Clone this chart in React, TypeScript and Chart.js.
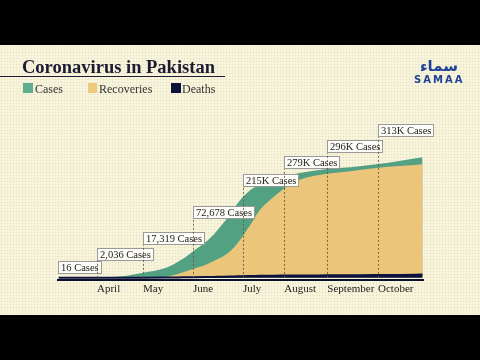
import React, { useEffect, useRef } from "react";
import { Chart, registerables } from "chart.js";

Chart.register(...registerables);

// x values are day-of-year 2020, y values are thousands of people
const days = [67, 94, 108, 122, 136, 148, 155, 162, 166, 170, 174, 179, 183, 186, 190, 193, 198, 205, 212, 216, 224, 242, 257, 274, 289, 304];
const cases = [0.016, 1.5, 4, 14, 26, 52, 74, 95, 110, 128, 148, 175, 200, 216, 233, 243, 255, 265, 275, 279, 286, 297, 302, 310, 319, 329];
const recoveries = [0, 0, 0, 0, 2, 15, 25, 34, 42, 50, 58, 74, 92, 108, 133, 152, 185, 214, 238, 250, 268, 284, 291, 300, 305, 310];
const deaths = [0, 0, 0.1, 0.4, 0.8, 1.3, 1.6, 2, 2.3, 2.7, 3, 3.5, 4, 4.4, 4.8, 5, 5.4, 5.7, 6, 6.2, 6.4, 6.7, 7, 7.4, 8, 9];

const monthLabels = ["April", "May", "June", "July", "August", "September", "October"];
const monthDays = [92, 122, 154.5, 187, 214, 242, 275];

const calloutTexts = ["16 Cases", "2,036 Cases", "17,319 Cases", "72,678 Cases", "215K Cases", "279K Cases", "296K Cases", "313K Cases"];
const calloutDays = [66.6, 92, 122, 154.5, 187, 214, 242, 275];
const calloutLevels = [12, 50, 93, 163, 251, 300, 343, 388];

const GREEN = "#52a183";
const YELLOW = "#ebc67a";
const NAVY = "#0c1240";
const SERIF = '"Liberation Serif", "Times New Roman", serif';

const calloutPlugin = {
  id: "callouts",
  afterDatasetsDraw(chart: any) {
    const { ctx, scales } = chart;
    const x = scales.x;
    const y = scales.y;
    const base = y.getPixelForValue(0);
    ctx.save();
    ctx.font = "10.5px " + SERIF;
    calloutTexts.forEach((t: string, i: number) => {
      const px = Math.round(x.getPixelForValue(calloutDays[i])) + 0.5;
      const bottom = Math.round(y.getPixelForValue(calloutLevels[i])) + 0.5;
      if (i > 0) {
        ctx.beginPath();
        ctx.setLineDash([2, 2]);
        ctx.strokeStyle = "rgba(95,85,60,0.85)";
        ctx.lineWidth = 1;
        ctx.moveTo(px, base);
        ctx.lineTo(px, bottom);
        ctx.stroke();
        ctx.setLineDash([]);
      }
      const w = Math.round(ctx.measureText(t).width + 5);
      const h = 12;
      ctx.fillStyle = "#fdfcf7";
      ctx.fillRect(px, bottom - h, w, h);
      ctx.strokeStyle = "#9a9a9a";
      ctx.lineWidth = 1;
      ctx.strokeRect(px, bottom - h, w, h);
      ctx.fillStyle = "#222";
      ctx.textBaseline = "alphabetic";
      ctx.textAlign = "left";
      ctx.fillText(t, px + 2.5, bottom - 2.5);
    });
    ctx.restore();
  },
};

export default function App() {
  const ref = useRef<HTMLCanvasElement>(null);
  useEffect(() => {
    const mk = (vals: number[]) => days.map((d, i) => ({ x: d, y: vals[i] }));
    const common = { fill: "origin", pointRadius: 0, cubicInterpolationMode: "monotone" };
    const chart = new Chart(ref.current as HTMLCanvasElement, {
      type: "line",
      data: {
        datasets: [
          { label: "Deaths", data: mk(deaths), borderColor: NAVY, backgroundColor: NAVY, borderWidth: 2, ...common },
          { label: "Recoveries", data: mk(recoveries), borderColor: YELLOW, backgroundColor: YELLOW, borderWidth: 0, ...common },
          { label: "Cases", data: mk(cases), borderColor: GREEN, backgroundColor: GREEN, borderWidth: 0, ...common },
        ],
      },
      options: {
        animation: false,
        responsive: false,
        maintainAspectRatio: false,
        layout: { padding: { left: 58, right: 57, top: 124, bottom: 61 } },
        plugins: { legend: { display: false }, tooltip: { enabled: false } },
        scales: {
          x: {
            type: "linear",
            min: 66.6,
            max: 304.3,
            grid: { display: false, drawTicks: false },
            border: { display: true, color: "#0b0f2a", width: 2 },
            afterBuildTicks: (s: any) => {
              s.ticks = monthDays.map((v) => ({ value: v }));
            },
            ticks: {
              autoSkip: false,
              maxRotation: 0,
              align: "start",
              padding: 3,
              color: "#222",
              font: { family: SERIF, size: 11 },
              callback: (_v: any, i: number) => monthLabels[i],
            },
          },
          y: { display: false, min: -5.4, max: 420 },
        },
      },
      plugins: [calloutPlugin],
    } as any);
    return () => chart.destroy();
  }, []);

  const sq = (left: number, color: string, w = 10) => (
    <div style={{ position: "absolute", left, top: 83, width: w, height: 10, background: color }} />
  );
  const lt = (left: number, text: string) => (
    <div style={{ position: "absolute", left, top: 83, fontFamily: SERIF, fontSize: 12, lineHeight: "12px", color: "#333", whiteSpace: "nowrap" }}>{text}</div>
  );

  return (
    <div style={{ position: "fixed", left: 0, top: 0, width: 480, height: 360, background: "#000", overflow: "hidden" }}>
      <div
        style={{
          position: "absolute",
          left: 0,
          top: 45,
          width: 480,
          height: 270,
          background: "radial-gradient(circle, #e9e3c2 0.8px, rgba(0,0,0,0) 1.1px) 0 0 / 3px 3px, #f9f6df",
        }}
      />
      <canvas ref={ref} width={480} height={360} style={{ position: "absolute", left: 0, top: 0, display: "block" }} />
      <div style={{ position: "absolute", left: 22, top: 58, fontFamily: SERIF, fontWeight: "bold", fontSize: 18.5, lineHeight: "18.5px", color: "#1b1b33", whiteSpace: "nowrap" }}>
        Coronavirus in Pakistan
      </div>
      <div style={{ position: "absolute", left: 0, top: 76, width: 225, height: 1, background: "#1b1b33" }} />
      {sq(23, "#5fae90")}
      {lt(35, "Cases")}
      {sq(88, "#f0c97e", 9)}
      {lt(99, "Recoveries")}
      {sq(171, "#0b1238")}
      {lt(182, "Deaths")}
      <div style={{ position: "absolute", left: 415, top: 58, width: 48, textAlign: "center", fontFamily: '"DejaVu Sans", sans-serif', fontWeight: "bold", fontSize: 15, lineHeight: "16px", color: "#1f4196" }}>
        سماء
      </div>
      <div style={{ position: "absolute", left: 414, top: 75, fontFamily: '"DejaVu Sans", sans-serif', fontWeight: "bold", fontSize: 10, lineHeight: "10px", letterSpacing: 2, color: "#1f4196", whiteSpace: "nowrap" }}>
        SAMAA
      </div>
    </div>
  );
}
